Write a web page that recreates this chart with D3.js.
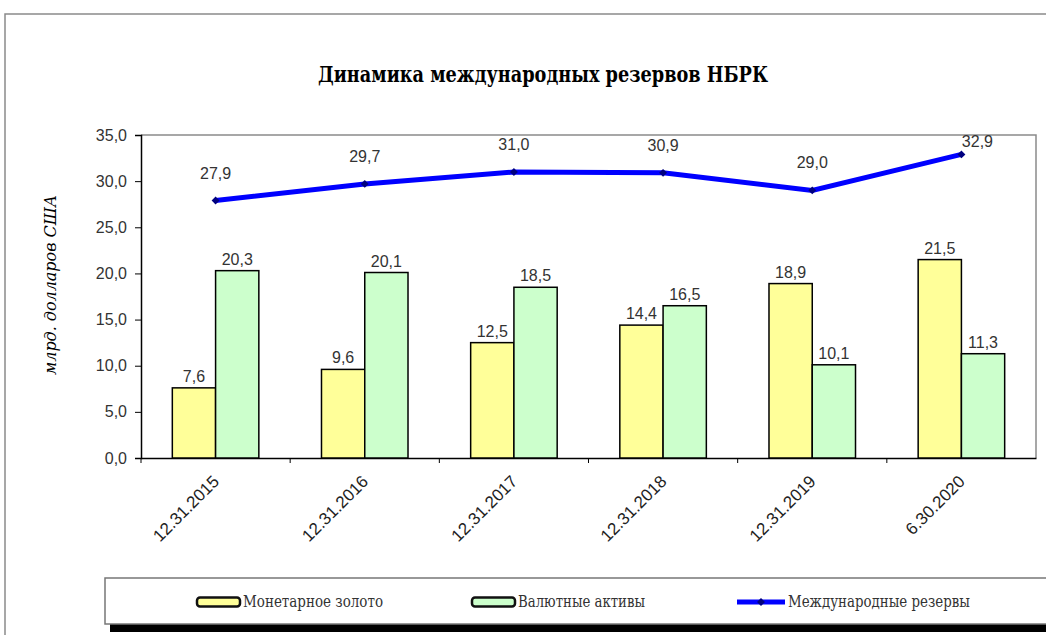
<!DOCTYPE html>
<html>
<head>
<meta charset="utf-8">
<script src="https://cdn.jsdelivr.net/npm/d3@7"></script>
<style>
  body { margin: 0; background: #fff; }
  svg { display: block; }
</style>
</head>
<body>
<div class="chart"></div>
<script>
const dates = ['12.31.2015', '12.31.2016', '12.31.2017', '12.31.2018', '12.31.2019', '6.30.2020'];
const gold = [7.6, 9.6, 12.5, 14.4, 18.9, 21.5];
const fx = [20.3, 20.1, 18.5, 16.5, 10.1, 11.3];
const reserves = [27.9, 29.7, 31.0, 30.9, 29.0, 32.9];
const yTicks = [0, 5, 10, 15, 20, 25, 30, 35];

const W = 1046, H = 635;
const m = { left: 141, right: 1036, top: 135, bottom: 458 };
const fmt = v => d3.format('.1f')(v).replace('.', ',');
const serif = '"DejaVu Serif", "Liberation Serif", serif';
const sans = '"Liberation Sans", Arial, sans-serif';

const svg = d3.select('.chart').append('svg')
    .attr('width', W)
    .attr('height', H);

// outer frame
svg.append('path')
    .attr('d', `M5,${H} V14 H${W}`)
    .attr('fill', 'none')
    .attr('stroke', '#8a8a8a')
    .attr('stroke-width', 1.5);

svg.append('text')
    .attr('x', 318).attr('y', 82)
    .attr('textLength', 450)
    .attr('lengthAdjust', 'spacingAndGlyphs')
    .style('font-family', serif)
    .style('font-weight', 'bold')
    .style('font-size', '22px')
    .text('Динамика международных резервов  НБРК');

const x = d3.scaleBand().domain(dates).range([m.left, m.right]);
const y = d3.scaleLinear().domain([0, 35]).range([m.bottom, m.top]);
const bw = x.bandwidth() * 0.29;

// plot border (top, right)
svg.append('path')
    .attr('d', `M${m.left},${m.top} H${m.right} V${m.bottom}`)
    .attr('fill', 'none')
    .attr('stroke', '#8a8a8a')
    .attr('stroke-width', 1.5);

// y axis
const yAxis = svg.append('g')
    .attr('transform', `translate(${m.left},0)`)
    .call(d3.axisLeft(y).tickValues(yTicks).tickFormat(fmt).tickSize(6).tickPadding(8));
yAxis.select('.domain').attr('stroke', '#000').attr('stroke-width', 1.5);
yAxis.selectAll('.tick line').attr('stroke', '#000');
yAxis.selectAll('text')
    .attr('fill', '#333')
    .style('font-family', sans)
    .style('font-size', '16px');

// x axis
const xAxis = svg.append('g')
    .attr('transform', `translate(0,${m.bottom})`)
    .call(d3.axisBottom(x).tickSize(0).tickPadding(0));
xAxis.select('.domain').attr('stroke', '#000').attr('stroke-width', 1.5);
xAxis.selectAll('.tick').each(function () {
    d3.select(this).append('line')
        .attr('x1', -x.bandwidth() / 2).attr('x2', -x.bandwidth() / 2)
        .attr('y1', 0).attr('y2', 5)
        .attr('stroke', '#000');
});
xAxis.selectAll('text')
    .attr('fill', '#222')
    .attr('text-anchor', 'end')
    .attr('transform', 'translate(-4,16) rotate(-45)')
    .style('font-family', sans)
    .style('font-size', '17px');

const lblStyle = sel => sel
    .attr('text-anchor', 'middle')
    .attr('fill', '#333')
    .style('font-family', sans)
    .style('font-size', '16px');

// bars
const series = [
    { vals: gold, fill: '#ffff99', off: -bw },
    { vals: fx, fill: '#ccffcc', off: 0 }
];
series.forEach(s => {
    const cx = (d, i) => x(dates[i]) + x.bandwidth() / 2 + s.off;
    svg.append('g').selectAll('rect')
        .data(s.vals)
        .join('rect')
            .attr('x', cx)
            .attr('y', d => y(d))
            .attr('width', bw)
            .attr('height', d => y(0) - y(d))
            .attr('fill', s.fill)
            .attr('stroke', '#000')
            .attr('stroke-width', 1.5);
    svg.append('g').selectAll('text')
        .data(s.vals)
        .join('text')
            .attr('x', (d, i) => cx(d, i) + bw / 2)
            .attr('y', d => y(d) - 6)
            .call(lblStyle)
            .text(fmt);
});

// line
const lx = (d, i) => x(dates[i]) + x.bandwidth() / 2;
svg.append('path')
    .datum(reserves)
    .attr('d', d3.line().x(lx).y(d => y(d)))
    .attr('fill', 'none')
    .attr('stroke', '#0000ff')
    .attr('stroke-width', 5);
svg.append('g').selectAll('path')
    .data(reserves)
    .join('path')
        .attr('transform', (d, i) => `translate(${lx(d, i)},${y(d)})`)
        .attr('d', d3.symbol(d3.symbolDiamond2, 40))
        .attr('fill', '#000080');
svg.append('g').selectAll('text')
    .data(reserves)
    .join('text')
        .attr('x', (d, i) => lx(d, i) + (i === reserves.length - 1 ? 16 : 0))
        .attr('y', d => y(d) - 22)
        .call(lblStyle)
        .attr('dy', (d, i) => i === reserves.length - 1 ? 15 : 0)
        .text(fmt);

svg.append('text')
    .attr('transform', 'translate(56,375) rotate(-90)')
    .attr('textLength', 180)
    .attr('lengthAdjust', 'spacingAndGlyphs')
    .style('font-family', serif)
    .style('font-style', 'italic')
    .style('font-size', '16px')
    .text('млрд. долларов США');

// legend
const leg = svg.append('g');
leg.append('rect')
    .attr('x', 110).attr('y', 584).attr('width', 950).attr('height', 48)
    .attr('fill', '#000');
leg.append('rect')
    .attr('x', 105).attr('y', 578).attr('width', 950).attr('height', 46)
    .attr('fill', '#fff')
    .attr('stroke', '#777')
    .attr('stroke-width', 1.5);

const legItems = [
    { name: 'Монетарное золото', type: 'bar', fill: '#ffff99', x: 197, len: 140 },
    { name: 'Валютные активы', type: 'bar', fill: '#ccffcc', x: 472, len: 127 },
    { name: 'Международные резервы', type: 'line', x: 737, len: 182 }
];
legItems.forEach(it => {
    const g = leg.append('g').attr('transform', `translate(${it.x},602)`);
    if (it.type === 'bar') {
        g.append('rect')
            .attr('x', 0).attr('y', -4.5).attr('width', 43).attr('height', 9)
            .attr('rx', 3)
            .attr('fill', it.fill).attr('stroke', '#111').attr('stroke-width', 2.5);
    } else {
        g.append('line')
            .attr('x1', 0).attr('x2', 48).attr('y1', 0).attr('y2', 0)
            .attr('stroke', '#0000ff').attr('stroke-width', 5);
        g.append('path')
            .attr('transform', 'translate(24,0)')
            .attr('d', d3.symbol(d3.symbolDiamond2, 40))
            .attr('fill', '#000080');
    }
    g.append('text')
        .attr('x', it.type === 'bar' ? 46 : 51)
        .attr('y', 5)
        .attr('textLength', it.len)
        .attr('lengthAdjust', 'spacingAndGlyphs')
        .style('font-family', serif)
        .style('font-size', '16px')
        .attr('fill', '#333')
        .text(it.name);
});
</script>
</body>
</html>
